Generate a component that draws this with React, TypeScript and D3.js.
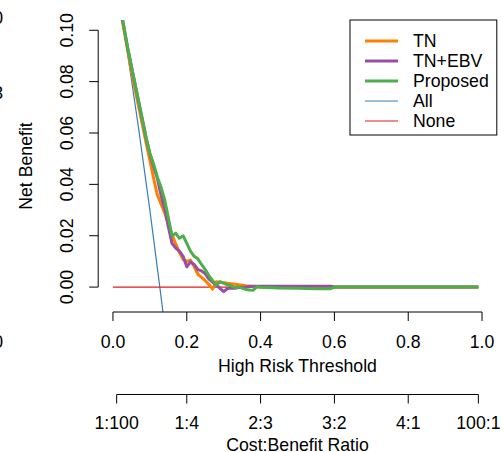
import React from "react";
import * as d3 from "d3";

const thresholds = [
  0.01, 0.02, 0.03, 0.04, 0.05, 0.06, 0.07, 0.08, 0.09, 0.1,
  0.11, 0.12, 0.13, 0.14, 0.15, 0.16, 0.17, 0.18, 0.19, 0.2,
  0.21, 0.22, 0.23, 0.24, 0.25, 0.26, 0.27, 0.28, 0.29, 0.3,
  0.31, 0.32, 0.33, 0.34, 0.35, 0.36, 0.37, 0.38, 0.39, 0.4,
  0.45, 0.5, 0.55, 0.59, 0.6, 0.7, 0.8, 0.9, 0.99,
];

const tnValues = [
  0.117, 0.108, 0.1, 0.092, 0.084, 0.077, 0.07, 0.063, 0.056, 0.0494,
  0.0425, 0.036, 0.0325, 0.029, 0.0244, 0.0205, 0.0168, 0.0135, 0.0108, 0.01,
  0.0105, 0.008, 0.005, 0.0038, 0.0025, 0.001, -0.0008, 0.0021, 0.0019, 0.0017,
  0.0015, 0.0013, 0.0011, 0.0009, 0.0007, 0.0005, 0.0004, 0.0002, 0.0001, 0,
  0, 0, 0, 0, 0, 0, 0, 0, 0,
];

const tnEbvValues = [
  0.117, 0.109, 0.101, 0.093, 0.086, 0.079, 0.072, 0.065, 0.058, 0.052,
  0.047, 0.0425, 0.036, 0.0305, 0.0235, 0.017, 0.0152, 0.014, 0.012, 0.0079,
  0.0098, 0.0088, 0.0068, 0.0063, 0.0052, 0.0031, 0.0019, 0.0009, -0.0005, -0.0018,
  -0.0006, -0.0004, -0.0005, -0.0002, -0.0001, 0, 0.0002, 0.0003, 0.0003, 0.0003,
  0.0003, 0.0003, 0.0003, 0.0003, 0, 0, 0, 0, 0,
];

const proposedValues = [
  0.117, 0.109, 0.101, 0.093, 0.086, 0.079, 0.072, 0.065, 0.058, 0.052,
  0.048, 0.043, 0.039, 0.034, 0.027, 0.02, 0.021, 0.019, 0.02, 0.017,
  0.014, 0.012, 0.011, 0.0088, 0.0068, 0.0045, 0.0025, 0.0008, 0.0021, 0.0015,
  0.0009, 0.0005, -0.0003, 0.0001, -0.0004, -0.0009, -0.0011, -0.0012, 0.0001, -0.0001,
  -0.0004, -0.0005, -0.0006, -0.0006, 0, 0, 0, 0, 0,
];

const allThresholds = [0.01, 0.04, 0.07, 0.1, 0.13, 0.15];
const allValues = [0.118, 0.0906, 0.0613, 0.03, -0.0034, -0.027];

const noneThresholds = [0, 0.99];
const noneValues = [0, 0];

const xTicks = [0, 0.2, 0.4, 0.6, 0.8, 1.0];
const xTickLabels = ["0.0", "0.2", "0.4", "0.6", "0.8", "1.0"];
const yTicks = [0, 0.02, 0.04, 0.06, 0.08, 0.1];
const yTickLabels = ["0.00", "0.02", "0.04", "0.06", "0.08", "0.10"];
const cbTicks = [0.01, 0.2, 0.4, 0.6, 0.8, 0.99];
const cbLabels = ["1:100", "1:4", "2:3", "3:2", "4:1", "100:1"];

const legendLabels = ["TN", "TN+EBV", "Proposed", "All", "None"];
const colors = ["#FF7F00", "#984EA3", "#4DAF4A", "#377EB8", "#E41A1C"];
const widths = [3, 3, 3, 1.2, 1.2];

export default function App() {
  const left = 98.2, right = 496.8, top = 20, bottom = 312;
  const x = d3.scaleLinear().domain([-0.04, 1.04]).range([left, right]);
  const y = d3.scaleLinear().domain([-0.0097, 0.104]).range([bottom, top]);
  const font = "Liberation Sans, Arial, sans-serif";
  const fs = 17.7;

  const mk = (ts: number[], vs: number[]) =>
    d3.line<number>().x((_, i) => x(ts[i])).y((v) => y(v))(vs) || "";

  const series = [
    { ts: allThresholds, vs: allValues, c: colors[3], w: widths[3] },
    { ts: noneThresholds, vs: noneValues, c: colors[4], w: widths[4] },
    { ts: thresholds, vs: tnValues, c: colors[0], w: widths[0] },
    { ts: thresholds, vs: tnEbvValues, c: colors[1], w: widths[1] },
    { ts: thresholds, vs: proposedValues, c: colors[2], w: widths[2] },
  ];

  const axis2Y = 394.5;

  return (
    <svg
      width={504}
      height={452}
      style={{ position: "absolute", left: 0, top: 0, background: "#fff" }}
      fontFamily={font}
    >
      <defs>
        <clipPath id="plotClip">
          <rect x={left} y={top} width={right - left} height={bottom - top} />
        </clipPath>
      </defs>
      <rect width={504} height={452} fill="#fff" />

      {/* clipped fragments of neighbouring panel */}
      <text x={3} y={24} fontSize={fs} textAnchor="end" fill="#000">0</text>
      <text x={3} y={99} fontSize={fs} textAnchor="end" fill="#000">3</text>
      <text x={3} y={348} fontSize={fs} textAnchor="end" fill="#000">0</text>

      <g clipPath="url(#plotClip)">
        {series.map((s, i) => (
          <path key={i} d={mk(s.ts, s.vs)} fill="none" stroke={s.c} strokeWidth={s.w} strokeLinejoin="round" />
        ))}
      </g>

      {/* y axis */}
      <line x1={left} x2={left} y1={y(0)} y2={y(0.1)} stroke="#000" strokeWidth={1} />
      {yTicks.map((t, i) => (
        <g key={i}>
          <line x1={left - 9} x2={left} y1={y(t)} y2={y(t)} stroke="#000" />
          <text
            transform={`translate(${73},${y(t)}) rotate(-90)`}
            textAnchor="middle"
            fontSize={fs}
          >
            {yTickLabels[i]}
          </text>
        </g>
      ))}
      <text transform={`translate(32,166) rotate(-90)`} textAnchor="middle" fontSize={fs}>
        Net Benefit
      </text>

      {/* x axis */}
      <line x1={x(0)} x2={x(1)} y1={bottom} y2={bottom} stroke="#000" />
      {xTicks.map((t, i) => (
        <g key={i}>
          <line x1={x(t)} x2={x(t)} y1={bottom} y2={bottom + 9} stroke="#000" />
          <text x={x(t)} y={348} textAnchor="middle" fontSize={fs}>
            {xTickLabels[i]}
          </text>
        </g>
      ))}
      <text x={(left + right) / 2} y={372} textAnchor="middle" fontSize={fs}>
        High Risk Threshold
      </text>

      {/* cost:benefit axis */}
      <line x1={x(cbTicks[0])} x2={x(cbTicks[cbTicks.length - 1])} y1={axis2Y} y2={axis2Y} stroke="#000" />
      {cbTicks.map((t, i) => (
        <g key={i}>
          <line x1={x(t)} x2={x(t)} y1={axis2Y} y2={axis2Y + 9} stroke="#000" />
          <text x={x(t)} y={429} textAnchor="middle" fontSize={fs}>
            {cbLabels[i]}
          </text>
        </g>
      ))}
      <text x={(left + right) / 2} y={451} textAnchor="middle" fontSize={fs}>
        Cost:Benefit Ratio
      </text>

      {/* legend */}
      <rect x={350} y={20} width={146.8} height={115} fill="#fff" stroke="#000" strokeWidth={1} />
      {legendLabels.map((l, i) => (
        <g key={i}>
          <line x1={365} x2={398} y1={41 + i * 20} y2={41 + i * 20} stroke={colors[i]} strokeWidth={widths[i]} />
          <text x={413} y={41 + i * 20 + 6} fontSize={fs}>
            {l}
          </text>
        </g>
      ))}
    </svg>
  );
}
